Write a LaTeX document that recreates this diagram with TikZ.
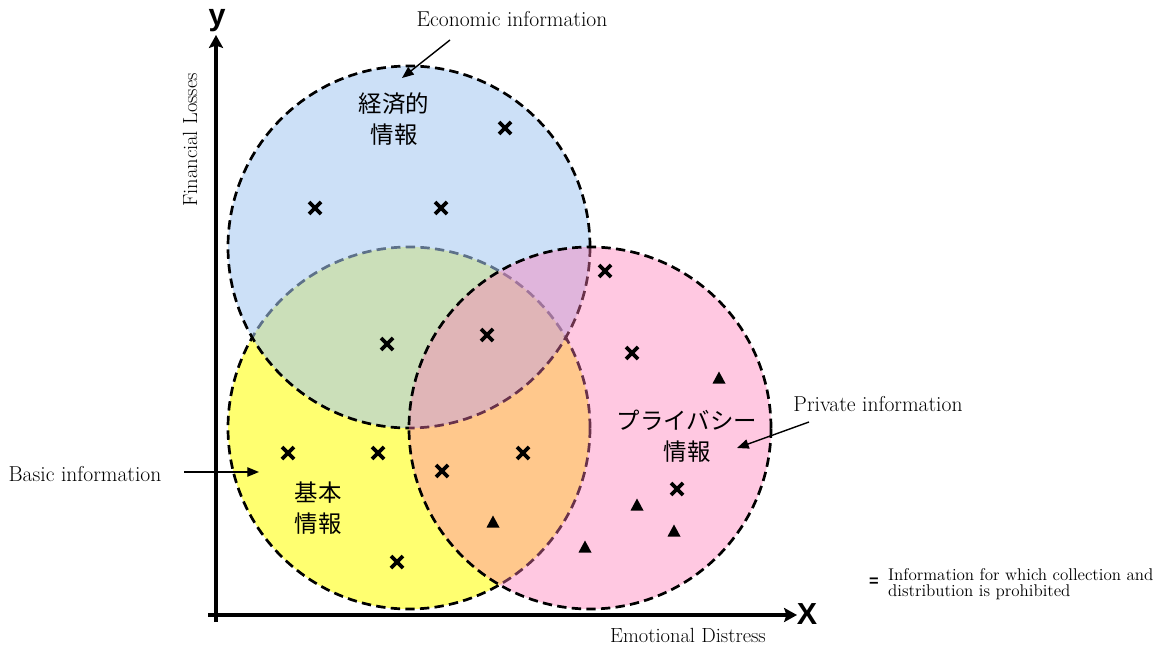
\documentclass[tikz,border=0pt]{standalone}
\usepackage{fontspec}
\newfontfamily\cjk{Noto Sans CJK JP}
\newfontfamily\axfont{Liberation Sans}
\usetikzlibrary{arrows.meta}
\definecolor{cyel}{RGB}{255,255,112}
\definecolor{cblue}{RGB}{165,200,241}
\definecolor{cpink}{RGB}{255,122,182}
\tikzset{
  venn/.style={circle, minimum size=10.86cm, inner sep=0pt, draw=black, line width=2.3pt, dash pattern=on 8pt off 4.5pt},
  axisline/.style={line width=2.6pt, -{Stealth[length=11pt,width=12pt,inset=2pt]}},
  annarrow/.style={line width=1.2pt, -{Triangle[length=10pt,width=8pt]}},
  anntext/.style={font=\fontsize{18.4}{21}\selectfont, inner sep=0pt},
  axtext/.style={font=\fontsize{17.5}{20}\selectfont, inner sep=0pt},
  cjklabel/.style={font=\cjk\fontsize{20}{26.5}\selectfont, align=center, inner sep=0pt},
  axletter/.style={font=\axfont\bfseries\fontsize{26}{28}\selectfont, inner sep=0pt},
  xm/.pic={\draw[line width=3.1pt] (-6,-6)--(6,6) (-6,6)--(6,-6);},
  tri/.pic={\fill (-6.5,5.5)--(6.5,5.5)--(0,-6.5)--cycle;}
}
\begin{document}
\begin{tikzpicture}[x=0.03cm,y=-0.03cm]
\useasboundingbox (0,0) rectangle (1164,646);
% circles
\node[venn, fill=cyel] (yel) at (409,428) {};
\node[venn, fill=cblue, fill opacity=0.57] (blu) at (409,247) {};
\node[venn, fill=cpink, fill opacity=0.41] (pnk) at (590,428) {};
% axes
\coordinate (ytop) at (216,35);
\coordinate (xr) at (797,615);
\coordinate (ybot) at (216,622);
\coordinate (xl) at (208,615);
\draw[axisline] (ybot) -- (ytop);
\draw[axisline] (xl) -- (xr);
\node[axletter] (ylab) at (217,21) {y};
\node[axletter] (xlab) at (807,614) {X};
\node[axtext, rotate=90] (fl) at (190,140) {Financial Losses};
\node[axtext] (ed) at (688,635) {Emotional Distress};
% CJK labels
\node[cjklabel] (econ) at (394,119) {経済的\\情報};
\node[cjklabel] (priv) at (687,436) {プライバシー\\情報};
\node[cjklabel] (basic) at (318,508) {基本\\情報};
% annotations
\node[anntext] (econt) at (512,19) {Economic information};
\coordinate (econa) at (402,78);
\draw[annarrow] (450,40) -- (econa);
\node[anntext] (privt) at (878,404) {Private information};
\coordinate (priva) at (737,448);
\draw[annarrow] (809,422) -- (priva);
\node[anntext] (basict) at (85,474) {Basic information};
\coordinate (basica) at (259,472);
\draw[annarrow] (184,472) -- (basica);
% markers
\foreach \p in {(505,128),(315,208),(441,208),(605,271),(387,344),(487,335),(632,353),(288,453),(378,453),(442,471),(523,453),(397,562),(677,489)}
  \pic at \p {xm};
\foreach \p in {(719,378),(493,522),(637,505),(674,531),(585,547)}
  \pic at \p {tri};
% legend
\node[font=\axfont\bfseries\fontsize{14}{14}\selectfont, inner sep=0pt] (eq) at (874,582) {=};
\node[font=\fontsize{14.5}{14}\selectfont, align=left, anchor=west, inner sep=0pt] (legt) at (888,584) {Information for which collection and\\distribution is prohibited};
\end{tikzpicture}
\end{document}
